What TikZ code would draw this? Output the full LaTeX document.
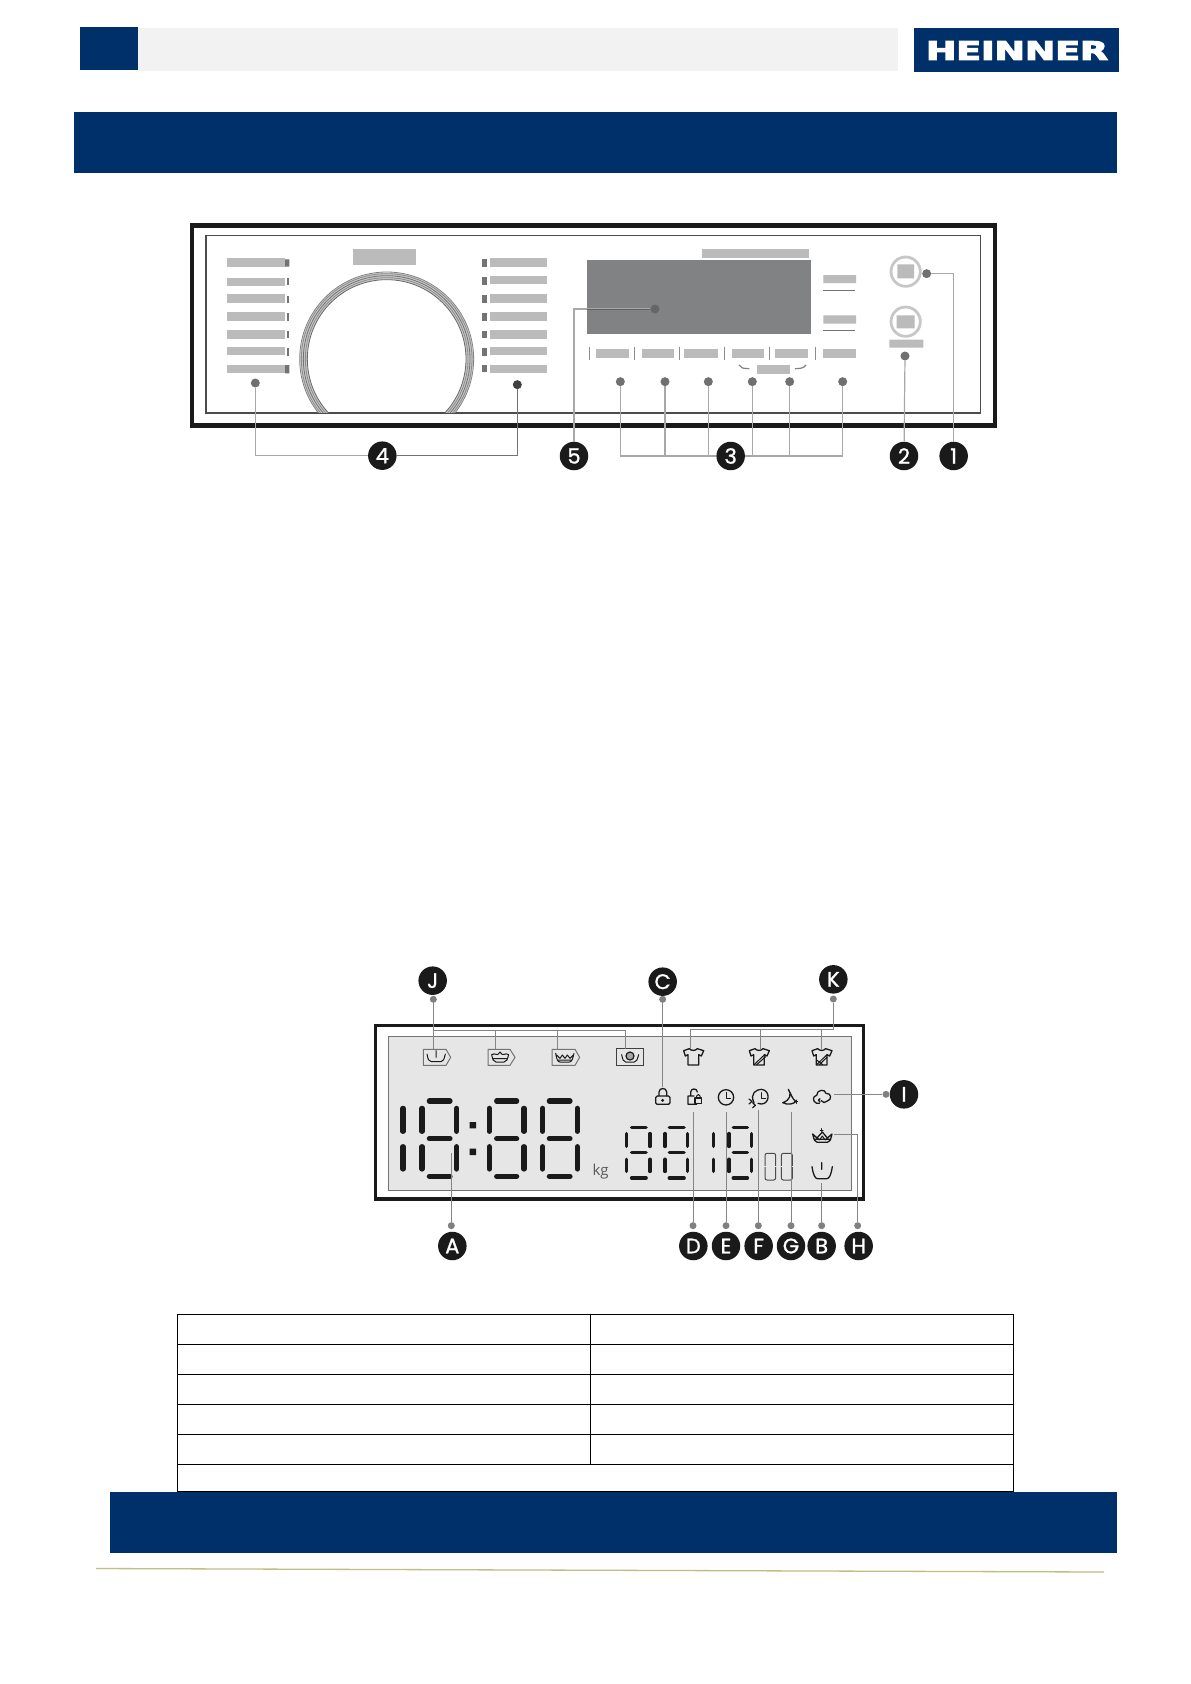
\documentclass[tikz,border=0pt]{standalone}
\usepackage{fontspec}
\usepackage{graphicx}
\setmainfont{Liberation Sans}
\newfontfamily\lblfont[FakeBold=1.2]{Poppins}
\newfontfamily\logofont[FakeBold=4]{DejaVu Sans Bold}
\definecolor{navy}{HTML}{00306A}
\definecolor{barg}{HTML}{BBBBBB}
\definecolor{scr}{HTML}{808283}
\definecolor{lcd}{HTML}{E6E6E6}
\definecolor{ink}{HTML}{1A1A1A}
\definecolor{conn}{HTML}{A8A8A8}
\definecolor{dotg}{HTML}{707070}
\definecolor{olive}{HTML}{BDBF85}
\tikzset{
  badge/.style={circle,fill=ink,text=white,inner sep=0pt,minimum size=28.5pt,font=\lblfont\fontsize{21}{21}\selectfont},
  dotmark/.style={circle,fill=dotg,inner sep=0pt,minimum size=9pt},
  smalldot/.style={circle,fill=black!50,inner sep=0pt,minimum size=7pt},
  conn/.style={draw=conn,line width=1.2pt},
  lconn/.style={draw=black!48,line width=1pt},
  seg/.style={draw=ink,line width=5.2pt,line cap=round},
  sseg/.style={draw=ink,line width=3.6pt,line cap=round},
  ico/.style={draw=ink,line width=1pt,line join=round,line cap=round},
  tag/.style={draw=black!55,line width=1pt,line join=miter},
  bar/.style={fill=barg},
  tick/.style={draw=black!45,line width=.8pt}
}
\newcommand{\eightbig}[4]{%
  \draw[seg] (#1,445)--(#1,514) (#1,560)--(#1,627) (#2,445)--(#2,514) (#2,560)--(#2,627)
    (#3,423)--(#4,423) (#3,536)--(#4,536) (#3,649)--(#4,649);}
\newcommand{\eightsmall}[4]{%
  \draw[sseg] (#1,521)--(#1,559) (#1,598)--(#1,634) (#2,521)--(#2,559) (#2,598)--(#2,634)
    (#3,503)--(#4,503) (#3,578)--(#4,578) (#3,654)--(#4,654);}
\newcommand{\shirtat}[1]{%
  \begin{scope}[shift={(#1,0)}]
  \draw[ico,line width=1.3pt] (-29,272)--(-12,266)..controls(-6,273)and(6,273)..(12,266)--(31,272)--(24,288)--(16,284)--(16,315)--(-16,315)--(-16,284)--(-24,288)--cycle;
  \end{scope}}
\begin{document}
\begin{tikzpicture}[x=1pt,y=-1pt]
\useasboundingbox (0,0) rectangle (1191,1684);
\fill[white] (0,0) rectangle (1191,1684);
% header
\fill[navy] (80,27) rectangle (137.5,70);
\fill[black!5] (137.5,27.5) rectangle (898,71);
\fill[navy] (914,28) rectangle (1119,72);
\node[inner sep=0pt,text=white] (logo) at (1017,50.5) {\resizebox{182pt}{18.5pt}{\logofont HEINNER}};
\fill[navy] (74,111.7) rectangle (1117,173);
% --- control panel
\draw[ink,line width=4.4pt] (192,225.5) rectangle (995,425.5);
\draw[black!70,line width=1.2pt] (206,235.7) rectangle (980.5,413);
\begin{scope}[shift={(170,210)},x=.33333pt,y=-.33333pt]
  % dial
  \begin{scope}
    \clip (300,100) rectangle (1000,608);
    \draw[black!22,line width=7pt] (650,447) circle [radius=249];
    \foreach \r/\c in {261/black!50,256/black!45,250/black!55,244/black!45,238/black!60}
      \draw[\c,line width=.8pt] (650,447) circle [radius=\r];
  \end{scope}
  \fill[bar] (549,117) rectangle (738,165);
  \foreach \a/\b in {145/170,203/228,253/278,307/332,361/386,411/436,465/490}
    \fill[bar] (170,\a) rectangle (345,\b);
  \foreach \a/\b in {145/170,198/223,253/278,307/332,361/386,411/436,465/490}
    \fill[bar] (960,\a) rectangle (1130,\b);
  \fill[black!55] (345,148) rectangle (358,170) (345,465) rectangle (358,490);
  \foreach \a in {203,257,310,363,415} \fill[black!55] (350,\a) rectangle (358,\a+22);
  \foreach \a in {148,202,256,310,363,415,465} \fill[black!55] (937,\a) rectangle (950,\a+22);
  \node[dotmark] (d4a) at (256,519) {};
  \node[dotmark,fill=black!75] (d4b) at (1042,524) {};
  \node[badge] (n4) at (637,737) {4};
  \node[badge] (n5) at (1212,738) {5};
\end{scope}
\begin{scope}[shift={(560,210)},x=.33333pt,y=-.33333pt]
  \node[inner sep=0pt,fill=scr,minimum width=223.3pt,minimum height=74.3pt] (screen) at (417,261.5) {};
  \fill[bar] (425,117) rectangle (748,143);
  \fill[bar] (790,195) rectangle (888,219) (790,316) rectangle (888,341);
  \draw[black!55,line width=.8pt] (790,240)--(884,240) (790,362)--(884,362);
  \foreach \a/\b in {108/207,245/342,371/473,515/612,645/744,790/888}
    \fill[bar] (\a,416) rectangle (\b,445);
  \foreach \a in {88,223,358,494,629,765} \draw[tick] (\a,410)--(\a,450);
  \fill[bar] (591,465) rectangle (690,491);
  \draw[black!50,line width=1.2pt] (537,465)..controls(542,474)and(550,476)..(568,476)
     (705,476)..controls(722,476)and(732,474)..(738,465);
  % round buttons
  \draw[black!22,line width=2.8pt] (1037,185) circle [radius=44];
  \draw[black!22,line width=2.8pt] (1037,335) circle [radius=44];
  \fill[bar] (1012,163) rectangle (1062,205) (1010,316) rectangle (1064,355) (988,389) rectangle (1090,413);
  \node[dotmark] (d1) at (1100,191) {};
  \node[dotmark] (d2) at (1035,438) {};
  \node[dotmark,fill=black!60] (d5) at (285,297) {};
  \node[badge] (n1) at (1181,738) {1};
  \node[badge] (n2) at (1032,738) {2};
  \node[badge] (n3) at (512,738) {3};
  \foreach \n/\x in {a/181,b/315,c/445,d/577,e/689,f/848}
     \node[dotmark] (d3\n) at (\x,515) {};
\end{scope}
% connectors of the panel
\draw[conn] (d4a) |- (n4);
\draw[conn,draw=black!55] (d4b) |- (n4);
\draw[conn] (n5) |- (d5);
\draw[draw=black!62,line width=1pt] (screen.west |- d5) -- (d5);
\draw[conn] (d1) -| (n1);
\draw[conn] (d2) -- (n2);
\draw[conn] (d3a) |- (n3);
\draw[conn] (d3b) |- (n3);
\draw[conn] (d3c) |- (n3);
\draw[conn] (d3d) |- (n3);
\draw[conn] (d3e) |- (n3);
\draw[conn] (d3f) |- (n3);
% --- LCD
\draw[ink,line width=3.8pt] (375.5,1025.5) rectangle (863.5,1199);
\draw[black!55,fill=lcd,line width=1pt] (388.3,1036) rectangle (851.7,1190);
\begin{scope}[shift={(360,960)},x=.33333pt,y=-.33333pt]
  \draw[seg] (129,445)--(129,514) (129,560)--(129,627);
  \eightbig{186}{290}{208}{270}
  \eightbig{388}{492}{410}{470}
  \eightbig{548}{652}{568}{630}
  \fill[ink] (329,486) rectangle (348,505) (329,566) rectangle (348,585);
  \node[text=black!65,inner sep=0pt,font=\fontspec{Open Sans}\fontsize{15}{15}\selectfont] (kg) at (722,636) {kg};
  \eightsmall{800}{870}{815}{858}
  % icons
  \draw[tag] (190,268)--(258,268)--(272,292)--(258,316)--(190,316)--cycle;
  \draw[ico] (201,282)..controls(204,298)and(206,305)..(214,305)--(243,305)..controls(250,305)and(252,298)..(256,282) (228,272)--(228,292);
  \draw[tag] (384,268)--(450,268)--(465,292)--(450,316)--(384,316)--cycle;
  \draw[ico] (395,284)..controls(398,298)and(400,306)..(408,306)--(432,306)..controls(440,306)and(442,298)..(446,284)
     (395,284)..controls(405,276)and(412,292)..(420,276)..controls(428,292)and(436,276)..(446,284) (400,296)--(440,296);
  \draw[tag] (576,268)--(645,268)--(659,292)--(645,316)--(576,316)--cycle;
  \draw[ico] (587,280)..controls(590,298)and(593,306)..(600,306)--(628,306)..controls(635,306)and(638,298)..(642,280)
     (590,285)--(600,295)--(607,285)--(615,295)--(622,285)--(630,295)--(640,285) (594,300)--(636,300);
  \draw[black!75,line width=1pt] (769,266) rectangle (850,316);
  \draw[ico] (785,284)..controls(788,298)and(790,306)..(797,306)--(823,306)..controls(830,306)and(832,298)..(836,284);
  \draw[ico,line width=1.2pt,fill=black!35] (810,288) circle [radius=12];
  % anchors and badges
  \node[badge] (nJ) at (218,62) {J};
  \node[smalldot] (dJ) at (220,118) {};
  \coordinate (j1) at (220,268);
  \coordinate (j2) at (406,268);
  \coordinate (j3) at (593,268);
  \coordinate (j4) at (795,266);
  \coordinate (jbus) at (220,210);
  \node[badge] (nA) at (277,858) {A};
  \node[smalldot] (dA) at (274,797) {};
  \coordinate (a1) at (274,580);
\end{scope}
\begin{scope}[shift={(600,960)},x=.33333pt,y=-.33333pt]
  \eightsmall{195}{263}{208}{252}
  \draw[sseg] (340,521)--(340,559) (340,598)--(340,634);
  \eightsmall{387}{455}{400}{442}
  \draw[black!70,line width=1pt,rounded corners=2pt] (495,580) rectangle (527,660) (544,580) rectangle (577,660);
  \draw[lcd,line width=1.2pt] (490,620)--(582,620);
  % shirts
  \shirtat{280}
  \shirtat{477}
  \shirtat{665}
  \draw[ico] (462,314)--(495,283) (470,314)--(497,290);
  \draw[ico] (650,314)--(681,284) (658,314)--(681,292) (650,300)--(668,314);
  % lock
  \draw[ico,line width=1.3pt,rounded corners=1.5pt] (167,408) rectangle (210,433);
  \draw[ico,line width=1.3pt] (177,408)--(177,396)..controls(177,382)and(200,382)..(200,396)--(200,408);
  \fill[ink] (188,421) circle [radius=5];
  % lock 2
  \draw[ico,line width=1.3pt] (282,408)--(264,408)--(264,433)--(290,433) (272,408)--(272,396)..controls(272,384)and(292,384)..(292,396);
  \draw[ico,fill=lcd,line width=1.2pt] (285,414) rectangle (305,430);
  \draw[ico] (290,414)--(290,408)..controls(290,402)and(300,402)..(300,408)--(300,414);
  % clock
  \draw[ico,line width=1.3pt] (378,412) circle [radius=23];
  \draw[ico] (378,397)--(378,415)--(392,415);
  % clock with arrows
  \draw[ico,line width=1.3pt] (462,428)..controls(448,400)and(470,388)..(484,388)..controls(512,390)and(510,432)..(484,432)--(474,430);
  \draw[ico] (484,398)--(484,414)--(497,414);
  \draw[ico,line width=1.2pt] (447,417)--(456,424)--(447,432) (458,428)--(466,436)--(458,443);
  % moon
  \draw[ico,line width=1.3pt] (565,388)..controls(575,402)and(572,420)..(548,428)..controls(562,436)and(582,432)..(588,424)..controls(578,420)and(572,400)..(565,388);
  \draw[ico] (588,420)--(588,430) (583,425)--(593,425);
  % cloud
  \draw[ico,line width=1.3pt] (650,430)..controls(636,424)and(638,408)..(650,406)..controls(650,388)and(676,386)..(678,400)..controls(694,398)and(698,420)..(680,424)..controls(676,430)and(668,428)..(664,422)
    (650,430)--(658,430) (660,416)..controls(654,416)and(654,424)..(660,426);
  % crown
  \draw[ico,line width=1.3pt] (638,522)..controls(642,540)and(645,547)..(652,547)--(682,547)..controls(689,547)and(692,540)..(696,522)
    (638,522)--(651,534)--(667,516)--(682,534)--(696,522) (644,538)--(692,538);
  \draw[ico] (665,506)--(665,514) (661,510)--(669,510);
  \draw[ico] (652,534)--(658,540) (667,528)--(660,538) (667,528)--(674,538) (682,534)--(676,540);
  % tub
  \draw[ico,line width=1.3pt] (636,620)..controls(640,645)and(645,656)..(653,656)--(680,656)..controls(688,656)and(693,645)..(697,620) (665,608)--(665,628);
  % anchors and badges
  \node[badge] (nC) at (188,65) {C};
  \node[smalldot] (dC) at (188,118) {};
  \coordinate (c1) at (188,380);
  \node[badge] (nK) at (700,58) {K};
  \node[smalldot] (dK) at (700,117) {};
  \coordinate (kbus) at (700,207);
  \coordinate (k1) at (270,266);
  \coordinate (k2) at (480,266);
  \coordinate (k3) at (665,266);
  \node[badge] (nI) at (912,403) {I};
  \node[smalldot] (dI) at (858,403) {};
  \coordinate (i1) at (703,403);
  \foreach \n/\x/\t in {D/279/455,E/378/455,F/475/450,G/573/455,B/665/668}{
    \node[smalldot] (d\n) at (\x,797) {};
    \coordinate (t\n) at (\x,\t);
  }
  \node[badge] (nD) at (280,858) {D};
  \node[badge] (nE) at (378,858) {E};
  \node[badge] (nF) at (476,858) {F};
  \node[badge] (nG) at (573,858) {G};
  \node[badge] (nB) at (665,858) {B};
  \node[badge] (nH) at (776,858) {H};
  \node[smalldot] (dH) at (773,797) {};
  \coordinate (h1) at (703,523);
\end{scope}
% LCD connectors
\draw[lconn] (dJ) -- (j1);
\draw[lconn] (jbus) -| (j4);
\draw[lconn] (j2 |- jbus) -- (j2);
\draw[lconn] (j3 |- jbus) -- (j3);
\draw[lconn] (dK) -- (kbus) -| (k1);
\draw[lconn] (k2 |- kbus) -- (k2);
\draw[lconn] (k3 |- kbus) -- (k3);
\draw[lconn] (dC) -- (c1);
\draw[lconn] (dA) -- (a1);
\draw[lconn] (dD) -- (tD);
\draw[lconn] (dE) -- (tE);
\draw[lconn] (dF) -- (tF);
\draw[lconn] (dG) -- (tG);
\draw[lconn] (dB) -- (tB);
\draw[lconn] (dH) |- (h1);
\draw[lconn] (dI) -- (i1);
% table
\draw[black,line width=1pt] (177,1314.3) rectangle (1013,1491.7);
\foreach \y in {1344.3,1374.3,1404.3,1434.3,1464.3} \draw[black,line width=1pt] (177,\y)--(1013,\y);
\draw[black,line width=1pt] (590,1314.3)--(590,1464.3);
% footer
\fill[navy] (110,1492) rectangle (1117,1553);
\draw[olive,line width=1.3pt] (96,1568.5)--(1104,1572);
\end{tikzpicture}
\end{document}
